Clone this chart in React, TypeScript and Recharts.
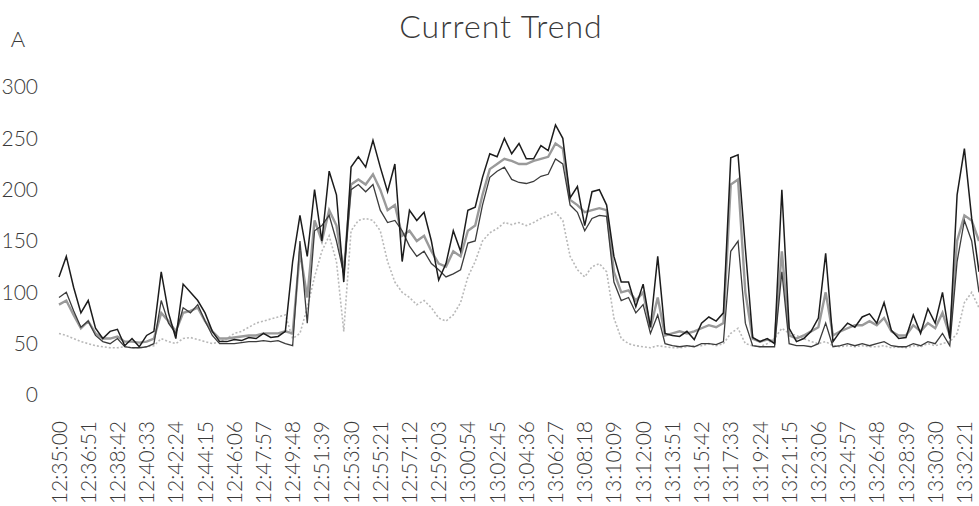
import { LineChart, Line, XAxis, YAxis } from 'recharts'

// time labels on the category axis, one every 4 samples
const timeLabels = [
  '12:35:00', '12:36:51', '12:38:42', '12:40:33', '12:42:24', '12:44:15', '12:46:06', '12:47:57',
  '12:49:48', '12:51:39', '12:53:30', '12:55:21', '12:57:12', '12:59:03', '13:00:54', '13:02:45',
  '13:04:36', '13:06:27', '13:08:18', '13:10:09', '13:12:00', '13:13:51', '13:15:42', '13:17:33',
  '13:19:24', '13:21:15', '13:23:06', '13:24:57', '13:26:48', '13:28:39', '13:30:30', '13:32:21',
]

const yTicks = [0, 50, 100, 150, 200, 250, 300]

// phase currents (A)
const phase1 = [
  115, 135, 105, 80, 92, 65, 55, 62, 64, 48,
  55, 47, 58, 62, 120, 80, 55, 108, 100, 92,
  80, 62, 52, 52, 54, 53, 56, 55, 60, 56,
  57, 62, 130, 175, 135, 200, 150, 218, 195, 110,
  222, 232, 222, 248, 222, 198, 225, 130, 180, 170,
  178, 150, 112, 128, 160, 140, 180, 183, 212, 235,
  232, 250, 235, 245, 230, 230, 243, 238, 263, 250,
  192, 203, 165, 198, 200, 185, 135, 110, 110, 86,
  108, 66, 135, 60, 58, 57, 62, 54, 70, 76,
  72, 80, 231, 234, 143, 56, 52, 55, 50, 200,
  65, 52, 55, 62, 75, 138, 52, 62, 70, 66,
  76, 79, 70, 90, 63, 55, 56, 78, 60, 84,
  70, 100, 55, 195, 240, 172, 120,
]

const phase2 = [
  95, 100, 82, 66, 72, 58, 52, 50, 55, 47,
  46, 46, 47, 50, 92, 70, 60, 85, 80, 88,
  72, 58, 50, 50, 50, 51, 52, 52, 53, 52,
  53, 50, 48, 150, 70, 160, 165, 175, 150, 118,
  200, 205, 198, 205, 180, 168, 170, 160, 145, 135,
  140, 128, 122, 115, 118, 122, 148, 150, 185, 212,
  218, 222, 210, 207, 206, 208, 213, 215, 230, 225,
  185, 178, 160, 172, 175, 174, 110, 92, 95, 80,
  88, 60, 78, 50, 48, 47, 48, 47, 50, 50,
  49, 52, 140, 150, 70, 48, 47, 47, 47, 120,
  50, 48, 48, 47, 50, 70, 47, 48, 50, 48,
  50, 48, 50, 52, 48, 47, 47, 50, 48, 52,
  50, 60, 48, 130, 170, 150, 100,
]

const phase3 = [
  88, 92, 78, 65, 72, 60, 55, 55, 57, 52,
  52, 51, 52, 55, 80, 72, 62, 80, 82, 85,
  72, 62, 55, 55, 56, 57, 58, 58, 60, 60,
  60, 62, 60, 140, 95, 170, 150, 180, 165, 120,
  205, 210, 205, 215, 200, 180, 185, 155, 160, 150,
  155, 140, 128, 125, 140, 135, 160, 165, 195, 220,
  225, 230, 228, 225, 225, 228, 230, 232, 245, 240,
  190, 185, 178, 180, 182, 180, 120, 100, 102, 92,
  100, 65, 95, 58, 60, 62, 60, 62, 65, 68,
  66, 70, 205, 210, 100, 55, 52, 54, 52, 140,
  58, 55, 58, 62, 66, 100, 58, 62, 65, 68,
  68, 72, 68, 75, 62, 58, 58, 68, 62, 70,
  65, 80, 58, 150, 175, 170, 150,
]

const neutral = [
  60, 58, 55, 52, 50, 48, 47, 46, 46, 47,
  46, 46, 47, 48, 55, 52, 50, 55, 56, 54,
  52, 50, 52, 55, 60, 62, 66, 70, 72, 74,
  76, 78, 55, 60, 85, 115, 140, 155, 130, 62,
  160, 170, 172, 170, 160, 130, 110, 100, 95, 88,
  92, 85, 75, 72, 78, 90, 115, 130, 150, 158,
  162, 168, 166, 168, 165, 168, 172, 175, 178, 170,
  135, 122, 115, 125, 128, 120, 75, 55, 50, 48,
  47, 46, 48, 47, 46, 46, 47, 48, 48, 50,
  48, 50, 60, 65, 50, 48, 47, 50, 55, 65,
  60, 58, 55, 52, 50, 52, 48, 47, 48, 47,
  48, 47, 47, 48, 46, 47, 46, 48, 47, 50,
  48, 50, 52, 60, 90, 100, 85,
]

const STEP = 4
const data = phase1.map((v, i) => ({
  i,
  p1: v,
  p2: phase2[i],
  p3: phase3[i],
  n: neutral[i],
}))
const xTicks = timeLabels.map((_, k) => k * STEP)

const FONT = 'Lato, "Open Sans", sans-serif'
const TEXT = '#3a3a3a'

// rotated time label, centred on the tick
// eslint-disable-next-line @typescript-eslint/no-explicit-any
function TimeTick(props: any) {
  const { x, y, payload } = props
  const label = timeLabels[Math.round(payload.value / STEP)] ?? ''
  return (
    <g transform={`translate(${x},${y})`}>
      <text
        x={-18}
        y={0}
        dy="0.36em"
        transform="rotate(-90)"
        textAnchor="end"
        fill={TEXT}
        fontSize={21}
        fontWeight={300}
        fontFamily={FONT}
      >
        {label}
      </text>
    </g>
  )
}

export default function App() {
  return (
    <div style={{ position: 'absolute', left: 0, top: 0, width: 979, height: 506, background: '#fff' }}>
      <LineChart
        width={979}
        height={506}
        data={data}
        margin={{ top: 87, right: 0, bottom: 0, left: 0 }}
      >
        <XAxis
          type="number"
          dataKey="i"
          domain={[0, 126]}
          ticks={xTicks}
          interval={0}
          tick={TimeTick}
          axisLine={false}
          tickLine={false}
          height={111}
        />
        <YAxis
          domain={[0, 300]}
          ticks={yTicks}
          width={59}
          axisLine={false}
          tickLine={false}
          tickSize={0}
          tickMargin={21}
          tick={{ fill: TEXT, fontSize: 21, fontWeight: 300, fontFamily: FONT }}
        />
        <Line
          type="linear"
          dataKey="n"
          stroke="#b8b8b8"
          strokeWidth={1.6}
          strokeDasharray="2 2"
          dot={false}
          isAnimationActive={false}
        />
        <Line
          type="linear"
          dataKey="p3"
          stroke="#9a9a9a"
          strokeWidth={2.4}
          dot={false}
          isAnimationActive={false}
        />
        <Line
          type="linear"
          dataKey="p2"
          stroke="#3c3c3c"
          strokeWidth={1.3}
          dot={false}
          isAnimationActive={false}
        />
        <Line
          type="linear"
          dataKey="p1"
          stroke="#1c1c1c"
          strokeWidth={1.5}
          dot={false}
          isAnimationActive={false}
        />
      </LineChart>
      <svg
        width={979}
        height={506}
        style={{ position: 'absolute', left: 0, top: 0, pointerEvents: 'none' }}
      >
        <text
          x={501}
          y={38}
          textAnchor="middle"
          fontSize={32}
          fontWeight={300}
          letterSpacing={1}
          fontFamily={FONT}
          fill={TEXT}
        >
          Current Trend
        </text>
        <text x={18} y={47} textAnchor="middle" fontSize={22} fontWeight={300} fontFamily={FONT} fill={TEXT}>
          A
        </text>
      </svg>
    </div>
  )
}
